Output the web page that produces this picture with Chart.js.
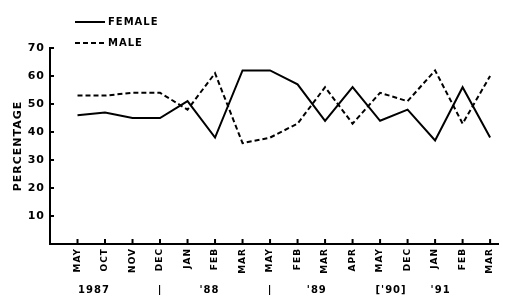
<!DOCTYPE html>
<html>
<head>
<meta charset="utf-8">
<script src="https://cdn.jsdelivr.net/npm/chart.js@4"></script>
<style>
  html, body { margin: 0; padding: 0; background: #fff; }
  #wrap { width: 505px; height: 295px; }
</style>
</head>
<body>
<div id="wrap"><canvas id="myChart"></canvas></div>
<script>
const months = ['MAY', 'OCT', 'NOV', 'DEC', 'JAN', 'FEB', 'MAR', 'MAY',
  'FEB', 'MAR', 'APR', 'MAY', 'DEC', 'JAN', 'FEB', 'MAR'];
const female = [46, 47, 45, 45, 51, 38, 62, 62, 57, 44, 56, 44, 48, 37, 56, 38];
const male = [53, 53, 54, 54, 48, 61, 36, 38, 43, 56, 43, 54, 51, 62, 43, 60];
// year captions under the month labels, placed at category positions
const years = [
  {at: 0.6, text: '1987'},
  {at: 3, text: '|'},
  {at: 4.8, text: "'88"},
  {at: 7, text: '|'},
  {at: 8.7, text: "'89"},
  {at: 11.4, text: "['90]"},
  {at: 13.2, text: "'91"},
];
const yTicks = [0, 10, 20, 30, 40, 50, 60, 70];

const FONT = '"DejaVu Sans", sans-serif';

const points = (vals) => vals.map((v, i) => ({x: i, y: v}));

// tick marks pointing inside the plot, plus year captions and legend
const extras = {
  id: 'extras',
  beforeDraw(chart) {
    // old typewriter-ish lettering is widely spaced
    chart.ctx.letterSpacing = '1px';
  },
  afterDraw(chart) {
    const ctx = chart.ctx;
    const xs = chart.scales.x;
    const ys = chart.scales.y;
    const area = chart.chartArea;
    ctx.save();
    ctx.strokeStyle = '#000';
    ctx.lineWidth = 2;
    months.forEach((m, i) => {
      const px = xs.getPixelForValue(i);
      ctx.beginPath();
      ctx.moveTo(px, area.bottom);
      ctx.lineTo(px, area.bottom - 5);
      ctx.stroke();
    });
    yTicks.forEach((t) => {
      const py = ys.getPixelForValue(t);
      ctx.beginPath();
      ctx.moveTo(area.left, py);
      ctx.lineTo(area.left + 4, py);
      ctx.stroke();
    });

    ctx.fillStyle = '#000';
    ctx.font = 'bold 10px ' + FONT;
    ctx.textAlign = 'center';
    ctx.textBaseline = 'middle';
    years.forEach((y) => {
      ctx.fillText(y.text, xs.getPixelForValue(y.at), 290);
    });

    // legend
    const sets = chart.data.datasets;
    const rows = [22, 43];
    ctx.font = 'bold 10px ' + FONT;
    ctx.textAlign = 'left';
    sets.forEach((ds, i) => {
      ctx.beginPath();
      ctx.setLineDash(ds.borderDash || []);
      ctx.lineWidth = 2;
      ctx.moveTo(75, rows[i]);
      ctx.lineTo(105, rows[i]);
      ctx.stroke();
      ctx.setLineDash([]);
      ctx.fillText(ds.label, 108, rows[i]);
    });
    ctx.restore();
  }
};

const config = {
  type: 'line',
  data: {
    datasets: [
      {
        label: 'FEMALE',
        data: points(female),
        borderColor: '#000',
        borderWidth: 2,
        pointRadius: 0,
        tension: 0
      },
      {
        label: 'MALE',
        data: points(male),
        borderColor: '#000',
        borderWidth: 2,
        borderDash: [5, 3],
        pointRadius: 0,
        tension: 0
      }
    ]
  },
  options: {
    responsive: true,
    maintainAspectRatio: false,
    animation: false,
    layout: {padding: {top: 48, right: 5, left: 0, bottom: 0}},
    plugins: {legend: {display: false}, tooltip: {enabled: false}},
    scales: {
      x: {
        type: 'linear',
        min: -1,
        max: 15.3,
        afterFit: (s) => { s.height = 51; },
        afterBuildTicks: (s) => { s.ticks = months.map((m, i) => ({value: i})); },
        grid: {display: false, drawTicks: false},
        border: {display: true, color: '#000', width: 2},
        ticks: {
          autoSkip: false,
          minRotation: 90,
          maxRotation: 90,
          padding: 4,
          color: '#000',
          font: {family: FONT, size: 9, weight: 'bold'},
          callback: (v) => months[v] || ''
        }
      },
      y: {
        min: 0,
        max: 70,
        afterFit: (s) => { s.width = 50; },
        afterBuildTicks: (s) => { s.ticks = yTicks.map((t) => ({value: t})); },
        grid: {display: false, drawTicks: false},
        border: {display: true, color: '#000', width: 2},
        title: {
          display: true,
          text: 'PERCENTAGE',
          color: '#000',
          padding: {top: 12, bottom: 4},
          font: {family: FONT, size: 11, weight: 'bold'}
        },
        ticks: {
          padding: 5,
          color: '#000',
          font: {family: FONT, size: 11, weight: 'bold'},
          callback: (v) => (v === 0 ? '' : v)
        }
      }
    }
  },
  plugins: [extras]
};

const myChart = new Chart(document.getElementById('myChart').getContext('2d'), config);
</script>
</body>
</html>
